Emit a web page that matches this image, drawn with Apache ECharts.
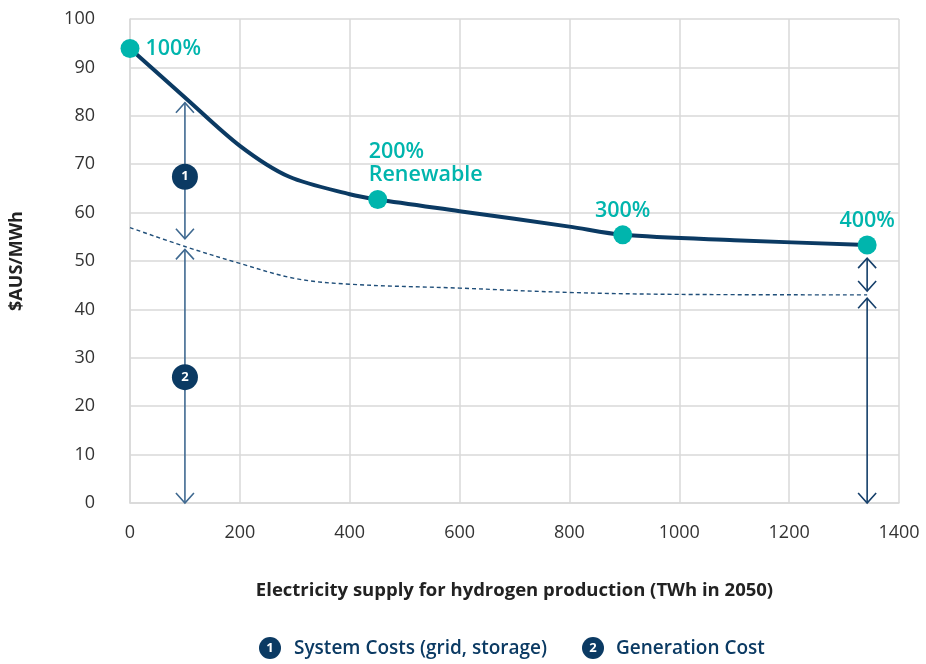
<!DOCTYPE html>
<html>
<head>
<meta charset="utf-8">
<script src="https://cdn.jsdelivr.net/npm/echarts@6/dist/echarts.min.js"></script>
<style>
  html, body { margin: 0; padding: 0; background: #ffffff; }
  #chart { width: 926px; height: 664px; }
</style>
</head>
<body>
<div id="chart"></div>
<script>
// Total cost of electricity (generation + system costs) along the supply curve
const supplyTWh = [0, 100, 200, 290, 400, 451, 600, 800, 897, 1100, 1342];
const totalCost = [93.9, 83.8, 73.8, 67.4, 63.8, 62.7, 60.3, 57.1, 55.4, 54.3, 53.3];

// Generation cost only (dashed curve)
const genSupply = [0, 100, 200, 300, 400, 600, 800, 1000, 1342];
const genCost = [56.9, 53.0, 49.5, 46.4, 45.2, 44.4, 43.5, 43.1, 43.0];

// Renewable share milestones
const shareLabels = ['100%', '200%\nRenewable', '300%', '400%'];
const shareSupply = [0, 451, 897, 1342];
const shareCost = [93.9, 62.7, 55.4, 53.3];

// Double-headed arrows marking the cost components
const arrowX = [100, 100, 1342, 1342];
const arrowFrom = [54.6, 0, 43.8, 0];
const arrowTo = [82.7, 52.4, 50.6, 42.3];

// Numbered badges on the left arrows
const badgeSupply = [100, 100];
const badgeCost = [67.4, 26.0];
const badgeText = ['1', '2'];

// Legend entries
const legendText = ['System Costs (grid, storage)', 'Generation Cost'];

// Axis ticks
const xTicks = { min: 0, max: 1400, interval: 200 };
const yTicks = { min: 0, max: 100, interval: 10 };

const NAVY = '#0b3a63';
const TEAL = '#00b5ad';
const FONT = '"Open Sans", sans-serif';

const chart = echarts.init(document.getElementById('chart'), null, { renderer: 'canvas' });

const labelStyles = [
  { position: 'right', distance: 6 },
  { position: 'top', align: 'left', offset: [-9, 0], distance: 4, lineHeight: 23 },
  { position: 'top', distance: 3 },
  { position: 'top', distance: 4 }
];

const milestoneData = shareSupply.map((x, i) => ({
  value: [x, shareCost[i]],
  label: Object.assign({ show: true, formatter: shareLabels[i] }, labelStyles[i])
}));

const arrowColors = ['#3f6990', '#3f6990', '#153f6a', '#153f6a'];
const arrowData = arrowX.map((x, i) => [x, arrowFrom[i], arrowTo[i], i]);

function chevron(tip, dir, color) {
  // dir = -1 points up, +1 points down
  const h = 10, w = 9;
  return {
    type: 'polyline',
    shape: { points: [[tip[0] - w, tip[1] - dir * h], tip, [tip[0] + w, tip[1] - dir * h]] },
    style: { stroke: color, lineWidth: 1.6, fill: null }
  };
}

const option = {
  backgroundColor: '#ffffff',
  animation: false,
  textStyle: { fontFamily: FONT },
  grid: { left: 127, right: 27, top: 19, bottom: 161, containLabel: false },
  xAxis: {
    type: 'value',
    min: xTicks.min, max: xTicks.max, interval: xTicks.interval,
    name: 'Electricity supply for hydrogen production (TWh in 2050)',
    nameLocation: 'middle', nameGap: 78,
    nameTextStyle: { fontFamily: FONT, fontSize: 18.5, fontWeight: 'bold', color: '#222' },
    axisLine: { show: true, lineStyle: { color: '#d9d9d9', width: 1.5 } },
    axisTick: { show: false },
    axisLabel: { fontFamily: FONT, fontSize: 18, color: '#333', margin: 21, formatter: v => String(v) },
    splitLine: { show: true, lineStyle: { color: '#d9d9d9', width: 1.5 } }
  },
  yAxis: {
    type: 'value',
    min: yTicks.min, max: yTicks.max, interval: yTicks.interval,
    name: '$AUS/MWh',
    nameLocation: 'middle', nameGap: 104, nameRotate: 90,
    nameTextStyle: { fontFamily: FONT, fontSize: 18, fontWeight: 'bold', color: '#222' },
    axisLine: { show: true, lineStyle: { color: '#d9d9d9', width: 1.5 } },
    axisTick: { show: false },
    axisLabel: { fontFamily: FONT, fontSize: 18, color: '#333', margin: 35, formatter: v => String(v) },
    splitLine: { show: true, lineStyle: { color: '#d9d9d9', width: 1.5 } }
  },
  series: [
    {
      name: 'Generation Cost',
      type: 'line',
      data: genSupply.map((x, i) => [x, genCost[i]]),
      smooth: 0.35,
      showSymbol: false,
      clip: false,
      lineStyle: { color: '#1f4e79', width: 1.4, type: [4, 3] },
      z: 2
    },
    {
      name: 'Total Cost',
      type: 'line',
      data: supplyTWh.map((x, i) => [x, totalCost[i]]),
      smooth: 0.3,
      showSymbol: false,
      clip: false,
      lineStyle: { color: NAVY, width: 4, cap: 'round', join: 'round' },
      z: 3
    },
    {
      name: 'Arrows',
      type: 'custom',
      clip: false,
      data: arrowData,
      renderItem: function (params, api) {
        const x = api.value(0);
        const lo = api.coord([x, api.value(1)]);
        const hi = api.coord([x, api.value(2)]);
        const color = arrowColors[api.value(3)];
        return {
          type: 'group',
          children: [
            { type: 'line', shape: { x1: lo[0], y1: lo[1], x2: hi[0], y2: hi[1] },
              style: { stroke: color, lineWidth: 1.6 } },
            chevron(hi, -1, color),
            chevron(lo, 1, color)
          ]
        };
      },
      z: 4
    },
    {
      name: 'Badges',
      type: 'scatter',
      clip: false,
      symbol: 'circle',
      symbolSize: 26,
      itemStyle: { color: NAVY, opacity: 1 },
      data: badgeSupply.map((x, i) => ({ value: [x, badgeCost[i]], label: { formatter: badgeText[i] } })),
      label: { show: true, position: 'inside', color: '#fff', fontFamily: FONT, fontWeight: 'bold', fontSize: 13 },
      z: 5
    },
    {
      name: 'Renewable share',
      type: 'scatter',
      clip: false,
      symbol: 'circle',
      symbolSize: 19,
      itemStyle: { color: TEAL, opacity: 1 },
      label: { color: TEAL, fontFamily: FONT, fontWeight: 600, fontSize: 21.5 },
      data: milestoneData,
      z: 6
    }
  ],
  graphic: [
    { type: 'circle', shape: { cx: 270, cy: 648, r: 11 }, style: { fill: NAVY } },
    { type: 'text', x: 270, y: 648, style: { text: '1', fill: '#fff', font: 'bold 13px ' + FONT, align: 'center', verticalAlign: 'middle' } },
    { type: 'text', x: 294, y: 649, style: { text: legendText[0], fill: NAVY, font: '600 19px ' + FONT, verticalAlign: 'middle' } },
    { type: 'circle', shape: { cx: 593, cy: 648, r: 11 }, style: { fill: NAVY } },
    { type: 'text', x: 593, y: 648, style: { text: '2', fill: '#fff', font: 'bold 13px ' + FONT, align: 'center', verticalAlign: 'middle' } },
    { type: 'text', x: 616, y: 649, style: { text: legendText[1], fill: NAVY, font: '600 19px ' + FONT, verticalAlign: 'middle' } }
  ]
};

chart.setOption(option);
</script>
</body>
</html>
